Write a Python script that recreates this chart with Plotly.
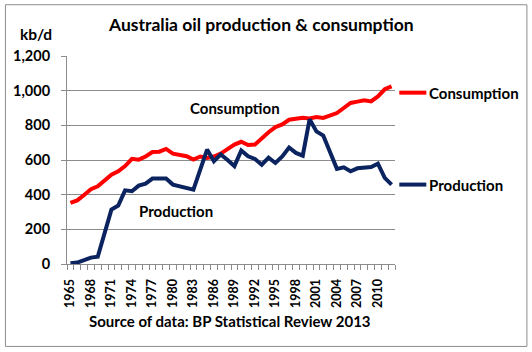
import plotly.graph_objects as go

years = list(range(1965, 2013))
consumption = [352, 367, 398, 432, 448, 482, 515, 535, 565, 607, 602, 620, 646, 648, 664, 637,
               631, 622, 602, 620, 612, 620, 637, 660, 689, 705, 686, 689, 727, 760, 790, 805,
               832, 837, 843, 840, 848, 843, 856, 871, 900, 929, 937, 944, 938, 967, 1008, 1025]
production = [5, 8, 22, 37, 42, 180, 314, 337, 425, 420, 452, 464, 493, 493, 493, 458,
              449, 441, 429, 545, 660, 593, 632, 600, 565, 655, 621, 606, 573, 614, 583, 621,
              672, 641, 625, 835, 765, 741, 641, 549, 558, 535, 552, 556, 560, 579, 497, 458]
tick_years = list(range(1965, 2011, 3))
tick_labels = [str(y) for y in tick_years]

RED = "#FF0000"
BLUE = "#0B2460"
GRID = "#8C8C8C"
FONT = "Lato"

W, H = 532, 352
L, R, T, B = 67, 394.7, 56.3, 264.5
pw, ph = R - L, B - T

def px(x):
    return (x - L) / pw

def py(y):
    return (B - y) / ph

fig = go.Figure()
fig.add_trace(go.Scatter(x=years, y=consumption, mode="lines", name="Consumption",
                         line=dict(color=RED, width=4)))
fig.add_trace(go.Scatter(x=years, y=production, mode="lines", name="Production",
                         line=dict(color=BLUE, width=4)))

fig.update_layout(
    width=W, height=H, autosize=False,
    margin=dict(l=L, r=W - R, t=T, b=H - B, pad=0),
    paper_bgcolor="white", plot_bgcolor="white",
    showlegend=False,
    font=dict(family=FONT, color="black"),
)
fig.update_xaxes(
    range=[1964.5, 2012.5], showgrid=False, zeroline=False,
    showline=True, linecolor=GRID, linewidth=1,
    tickmode="array", tickvals=tick_years, ticktext=tick_labels,
    ticks="", tickangle=-90, ticklabelstandoff=9,
    tickfont=dict(family=FONT, size=12.5, color="black", weight="bold"),
    minor=dict(ticks="outside", ticklen=5, tickcolor=GRID, tickwidth=1,
               tick0=1964.5, dtick=1, showgrid=False),
)
fig.update_yaxes(
    range=[0, 1200], dtick=200, tickformat=",",
    showgrid=True, gridcolor=GRID, gridwidth=1, zeroline=False,
    showline=True, linecolor=GRID, linewidth=1,
    ticks="outside", ticklen=5, tickcolor=GRID, ticklabelstandoff=8,
    tickfont=dict(family=FONT, size=14.5, color="black", weight="bold"),
)

ann = []
ann.append(dict(text="<b>Australia oil production & consumption</b>", x=px(261), y=py(25),
                xref="paper", yref="paper", showarrow=False, xanchor="center", yanchor="middle",
                font=dict(size=17.5, family=FONT, color="black")))
ann.append(dict(text="<b>kb/d</b>", x=px(36), y=py(34), xref="paper", yref="paper",
                showarrow=False, xanchor="center", yanchor="middle",
                font=dict(size=15.5, family=FONT, color="black")))
ann.append(dict(text="<b>Source of data: BP Statistical Review 2013</b>", x=px(230), y=py(322),
                xref="paper", yref="paper", showarrow=False, xanchor="center", yanchor="middle",
                font=dict(size=15, family=FONT, color="black")))
ann.append(dict(text="<b>Consumption</b>", x=1989.1, y=902, xref="x", yref="y",
                showarrow=False, xanchor="center", yanchor="middle",
                font=dict(size=15, family=FONT, color="black")))
ann.append(dict(text="<b>Production</b>", x=1980.4, y=303, xref="x", yref="y",
                showarrow=False, xanchor="center", yanchor="middle",
                font=dict(size=15, family=FONT, color="black")))
ann.append(dict(text="<b>Consumption</b>", x=px(427), y=py(93), xref="paper", yref="paper",
                showarrow=False, xanchor="left", yanchor="middle",
                font=dict(size=15, family=FONT, color="black")))
ann.append(dict(text="<b>Production</b>", x=px(427), y=py(185), xref="paper", yref="paper",
                showarrow=False, xanchor="left", yanchor="middle",
                font=dict(size=15, family=FONT, color="black")))
fig.update_layout(annotations=ann)

shapes = [
    dict(type="line", xref="paper", yref="paper", x0=px(399), x1=px(426), y0=py(93), y1=py(93),
         line=dict(color=RED, width=4)),
    dict(type="line", xref="paper", yref="paper", x0=px(399), x1=px(426), y0=py(185), y1=py(185),
         line=dict(color=BLUE, width=4)),
    dict(type="rect", xref="paper", yref="paper", x0=px(5.5), x1=px(526.5), y0=py(5), y1=py(347),
         line=dict(color="#8C8C8C", width=1), fillcolor="rgba(0,0,0,0)", layer="below"),
]
fig.update_layout(shapes=shapes)

fig.write_html("out.html")
